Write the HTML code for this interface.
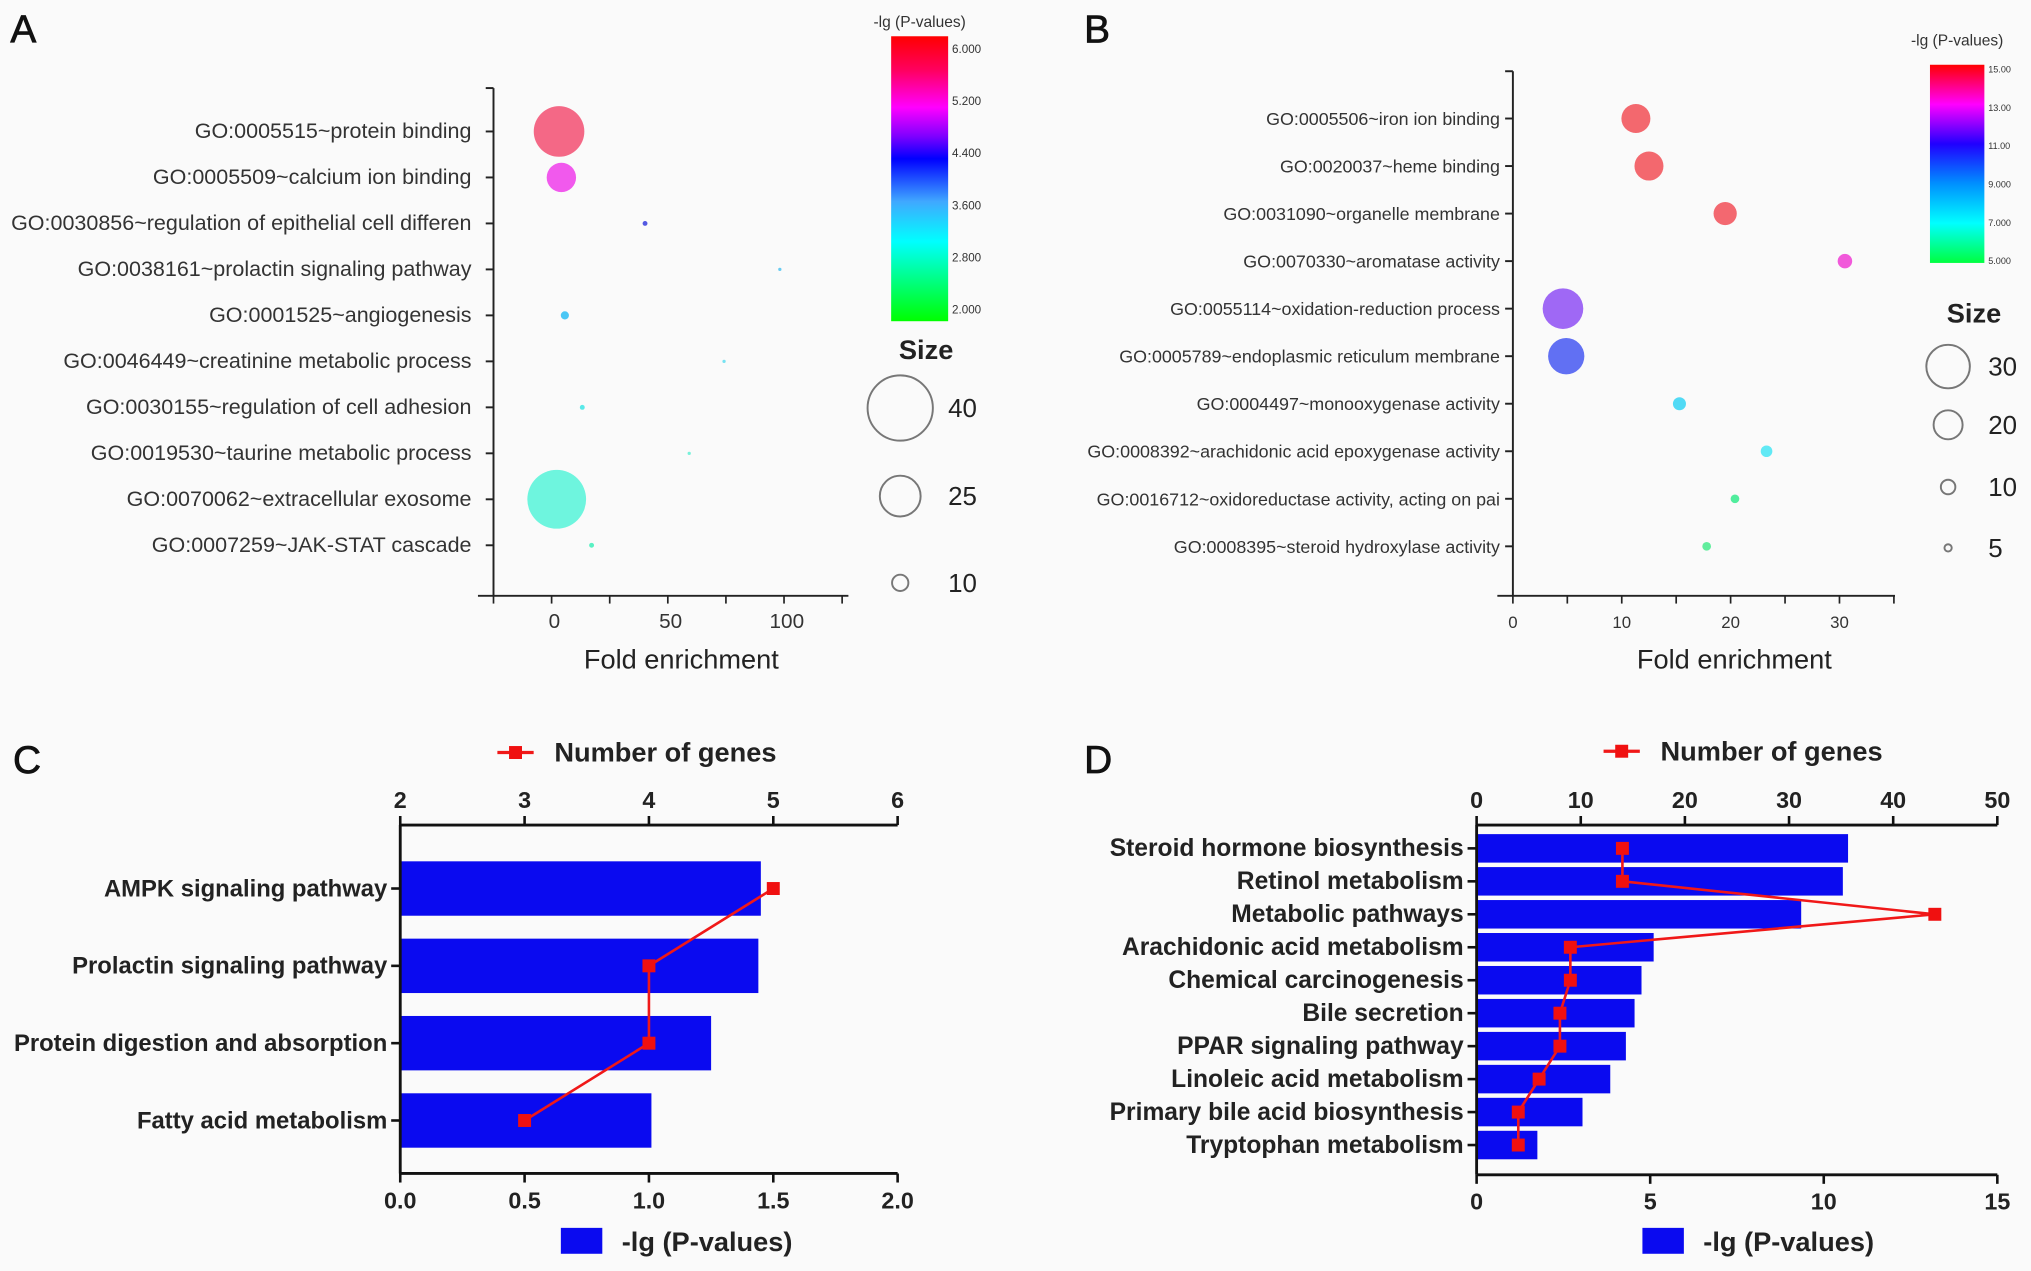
<!DOCTYPE html>
<html><head><meta charset="utf-8"><style>
html,body{margin:0;padding:0;background:#fafafa;}
svg{display:block;font-family:"Liberation Sans",Arial,sans-serif;}
</style></head><body>
<svg id="fig" width="2031" height="1271" viewBox="0 0 1568 981.3" preserveAspectRatio="none">
<defs>
<linearGradient id="gA" x1="0" y1="0" x2="0" y2="1">
<stop offset="0" stop-color="#ff0000"/><stop offset="0.12" stop-color="#ff0060"/><stop offset="0.25" stop-color="#ff00ff"/><stop offset="0.35" stop-color="#8000ff"/><stop offset="0.43" stop-color="#0000ff"/><stop offset="0.58" stop-color="#40a8ff"/><stop offset="0.72" stop-color="#00ffff"/><stop offset="1" stop-color="#00ff00"/>
</linearGradient>
<linearGradient id="gB" x1="0" y1="0" x2="0" y2="1">
<stop offset="0" stop-color="#ff0000"/><stop offset="0.2" stop-color="#ff00ff"/><stop offset="0.4" stop-color="#2000ff"/><stop offset="0.6" stop-color="#0090ff"/><stop offset="0.8" stop-color="#00ffff"/><stop offset="1" stop-color="#00ff40"/>
</linearGradient>
</defs>
</svg>
<script>
// Panel A data
const aTerms=["GO:0005515~protein binding","GO:0005509~calcium ion binding","GO:0030856~regulation of epithelial cell differen","GO:0038161~prolactin signaling pathway","GO:0001525~angiogenesis","GO:0046449~creatinine metabolic process","GO:0030155~regulation of cell adhesion","GO:0019530~taurine metabolic process","GO:0070062~extracellular exosome","GO:0007259~JAK-STAT cascade"];
const aFold=[2,3,39,97,4.5,73,12,58,1,16];
const aSize=[31,18,3,2,5,2,3,2,36,3];
const aColor=["#f36080","#f050ec","#4a50e0","#60c8f0","#40c4f4","#70e0f0","#50e8e8","#70f0d8","#66f4dc","#50f0c0"];
const aTicks=[0,50,100];
const aCbLabels=["6.000","5.200","4.400","3.600","2.800","2.000"];
const aSizeLegend=[40,25,10];
// Panel B data
const bTerms=["GO:0005506~iron ion binding","GO:0020037~heme binding","GO:0031090~organelle membrane","GO:0070330~aromatase activity","GO:0055114~oxidation-reduction process","GO:0005789~endoplasmic reticulum membrane","GO:0004497~monooxygenase activity","GO:0008392~arachidonic acid epoxygenase activity","GO:0016712~oxidoreductase activity, acting on pai","GO:0008395~steroid hydroxylase activity"];
const bFold=[11.3,12.5,19.5,30.5,4.6,4.9,15.3,23.3,20.4,17.8];
const bSize=[20,20,16,10,28,25,9,8,6,6];
const bColor=["#f26066","#f26066","#f26068","#f050d8","#9a60f4","#5868f2","#48d8f4","#58e8f4","#48ec98","#58ec98"];
const bTicks=[0,10,20,30];
const bCbLabels=["15.00","13.00","11.00","9.000","7.000","5.000"];
const bSizeLegend=[30,20,10,5];
// Panel C data
const cTerms=["AMPK signaling pathway","Prolactin signaling pathway","Protein digestion and absorption","Fatty acid metabolism"];
const cP=[1.45,1.44,1.25,1.01];
const cGenes=[5,4,4,3];
const cBottomTicks=["0.0","0.5","1.0","1.5","2.0"];
const cTopTicks=[2,3,4,5,6];
// Panel D data
const dTerms=["Steroid hormone biosynthesis","Retinol metabolism","Metabolic pathways","Arachidonic acid metabolism","Chemical carcinogenesis","Bile secretion","PPAR signaling pathway","Linoleic acid metabolism","Primary bile acid biosynthesis","Tryptophan metabolism"];
const dP=[10.7,10.55,9.35,5.1,4.75,4.55,4.3,3.85,3.05,1.75];
const dGenes=[14,14,44,9,9,8,8,6,4,4];
const dBottomTicks=[0,5,10,15];
const dTopTicks=[0,10,20,30,40,50];

const svg=document.getElementById('fig');
const NS="http://www.w3.org/2000/svg";
function el(tag,attrs,parent,text){const e=document.createElementNS(NS,tag);for(const k in attrs)e.setAttribute(k,attrs[k]);if(text!==undefined)e.textContent=text;(parent||svg).appendChild(e);return e;}
function grp(name){const g=el('g',{});


return g;}

// Panel letters
[["A",8,33],["B",837,33],["C",10,597],["D",837,597]].forEach(p=>{const t=el('text',{x:p[1],y:p[2],'font-size':30,fill:'#111',stroke:'#111','stroke-width':0.6},svg,p[0]);

});

// ---------- Bubble chart helper
function bubble(cfg){
  const g=grp(cfg.name);
  const xs=v=>cfg.x0+(v-cfg.d0)*(cfg.x1-cfg.x0)/(cfg.d1-cfg.d0);
  const ys=i=>cfg.row0+i*cfg.rowStep;
  const ax=grp(cfg.name+'-axes');g.appendChild(ax);
  el('line',{x1:cfg.x0,y1:cfg.top,x2:cfg.x0,y2:cfg.bot,stroke:'#222','stroke-width':1.5},ax);
  el('line',{x1:cfg.x0-12,y1:cfg.bot,x2:cfg.x1,y2:cfg.bot,stroke:'#222','stroke-width':1.5},ax);
  el('line',{x1:cfg.x0-6,y1:cfg.top,x2:cfg.x0,y2:cfg.top,stroke:'#222','stroke-width':1.5},ax);
  cfg.terms.forEach((t,i)=>{
    el('line',{x1:cfg.x0-6,y1:ys(i),x2:cfg.x0,y2:ys(i),stroke:'#222','stroke-width':1.5},ax);
    const lb=el('text',{x:cfg.x0-cfg.lgap,y:ys(i)+5,'font-size':cfg.fs,'text-anchor':'end',fill:'#333'},g,t);
    
    
  });
  for(let v=cfg.d0;v<=cfg.d1+0.001;v+=cfg.minor){const x=xs(v);if(x<cfg.x0-13)continue;
    el('line',{x1:x,y1:cfg.bot,x2:x,y2:cfg.bot+6,stroke:'#222','stroke-width':1.3},ax);}
  cfg.ticks.forEach(v=>{const tl=el('text',{x:xs(v),y:cfg.bot+25,'font-size':cfg.tfs,'text-anchor':'middle',fill:'#333'},ax,String(v));
    
    });
  const xt=el('text',{x:cfg.titleX,y:cfg.bot+56,'font-size':21,'text-anchor':'middle',fill:'#222'},g,'Fold enrichment');
  
  
  cfg.fold.forEach((v,i)=>{
    const c=el('circle',{cx:xs(v),cy:ys(i),r:cfg.size[i]*cfg.rScale,fill:cfg.color[i],opacity:0.95},g);
    
    
  });
  const cb=grp(cfg.name+'-colorbar');g.appendChild(cb);
  const ct=el('text',{x:cfg.cbX+cfg.cbW/2,y:cfg.cbTitleY,'font-size':12,'text-anchor':'middle',fill:'#333'},cb,'-lg (P-values)');
  
  
  el('rect',{x:cfg.cbX,y:cfg.cbY0,width:cfg.cbW,height:cfg.cbY1-cfg.cbY0,fill:cfg.grad},cb);
  cfg.cbLabels.forEach((l,i)=>{const y=cfg.cbL0+i*(cfg.cbL1-cfg.cbL0)/(cfg.cbLabels.length-1);
    el('text',{x:cfg.cbX+cfg.cbW+3,y:y+3,'font-size':cfg.cbfs,fill:'#333'},cb,l);});
  const sl=grp(cfg.name+'-size-legend');g.appendChild(sl);
  const st=el('text',{x:cfg.slX+20,y:cfg.slTitleY,'font-size':21,'font-weight':'bold','text-anchor':'middle',fill:'#222'},sl,'Size');
  
  
  cfg.sizeLegend.forEach((s,i)=>{const y=cfg.slY[i];
    el('circle',{cx:cfg.slX,cy:y,r:s*cfg.rScale,fill:'none',stroke:'#777','stroke-width':1.5},sl);
    el('text',{x:cfg.slX+cfg.slDX,y:y+7,'font-size':20,fill:'#222'},sl,String(s));});
}

bubble({name:'panel-a-bubble-chart',terms:aTerms,fold:aFold,size:aSize,color:aColor,ticks:aTicks,
 x0:381,x1:655,d0:-26.2,d1:126.5,top:68,bot:460,row0:101.5,rowStep:35.5,minor:25,fs:16.6,lgap:17,tfs:16,titleX:526,rScale:0.63,
 cbX:688,cbW:44,cbY0:28,cbY1:248,cbTitleY:21,grad:'url(#gA)',cbLabels:aCbLabels,cbL0:38,cbL1:239,cbfs:9,
 slX:695,slTitleY:277,slY:[315,383,450],slDX:37,sizeLegend:aSizeLegend});
bubble({name:'panel-b-bubble-chart',terms:bTerms,fold:bFold,size:bSize,color:bColor,ticks:bTicks,
 x0:1168,x1:1463,d0:0,d1:35.1,top:55,bot:460,row0:91.5,rowStep:36.7,minor:5,fs:13.8,lgap:10,tfs:13,titleX:1339,rScale:0.56,
 cbX:1490,cbW:42,cbY0:50,cbY1:203,cbTitleY:35,grad:'url(#gB)',cbLabels:bCbLabels,cbL0:53,cbL1:201,cbfs:7,
 slX:1504,slTitleY:249,slY:[283,328,376,423],slDX:31,sizeLegend:bSizeLegend});

// ---------- Bar + line chart helper
function barLine(cfg){
  const g=grp(cfg.name);
  const xb=v=>cfg.x0+(v-cfg.b0)*(cfg.x1-cfg.x0)/(cfg.b1-cfg.b0);
  const xt=v=>cfg.x0+(v-cfg.t0)*(cfg.x1-cfg.x0)/(cfg.t1-cfg.t0);
  const ys=i=>cfg.row0+i*cfg.rowStep;
  cfg.p.forEach((v,i)=>{const r=el('rect',{x:cfg.x0,y:ys(i)-cfg.bh/2,width:xb(v)-cfg.x0,height:cfg.bh,fill:'#0a0af0'},g);
    
    });
  const ax=grp(cfg.name+'-axes');g.appendChild(ax);
  el('line',{x1:cfg.x0,y1:cfg.top,x2:cfg.x0,y2:cfg.bot,stroke:'#111','stroke-width':2.2},ax);
  el('line',{x1:cfg.x0,y1:cfg.top,x2:cfg.x1,y2:cfg.top,stroke:'#111','stroke-width':2.2},ax);
  el('line',{x1:cfg.x0,y1:cfg.bot,x2:cfg.x1,y2:cfg.bot,stroke:'#111','stroke-width':2.2},ax);
  cfg.bTicks.forEach(t=>{const x=xb(parseFloat(t));
    el('line',{x1:x,y1:cfg.bot,x2:x,y2:cfg.bot+7,stroke:'#111','stroke-width':2},ax);
    el('text',{x:x,y:cfg.bot+27,'font-size':18,'font-weight':'bold','text-anchor':'middle',fill:'#222'},ax,String(t));});
  cfg.tTicks.forEach(t=>{const x=xt(t);
    el('line',{x1:x,y1:cfg.top-7,x2:x,y2:cfg.top,stroke:'#111','stroke-width':2},ax);
    el('text',{x:x,y:cfg.top-13,'font-size':18,'font-weight':'bold','text-anchor':'middle',fill:'#222'},ax,String(t));});
  cfg.terms.forEach((t,i)=>{el('line',{x1:cfg.x0-7,y1:ys(i),x2:cfg.x0,y2:ys(i),stroke:'#111','stroke-width':2},ax);
    const lb=el('text',{x:cfg.x0-10,y:ys(i)+6,'font-size':cfg.fs,'font-weight':'bold','text-anchor':'end',fill:'#222'},g,t);
    
    });
  const pts=cfg.genes.map((v,i)=>xt(v)+','+ys(i)).join(' ');
  const pl=el('polyline',{points:pts,fill:'none',stroke:'#f01818','stroke-width':2},g);
  
  
  cfg.genes.forEach((v,i)=>{const m=el('rect',{x:xt(v)-5,y:ys(i)-5,width:10,height:10,fill:'#f01010'},g);
    
    });
  const lt=grp(cfg.name+'-legend-genes');g.appendChild(lt);
  el('line',{x1:cfg.lgX-14,y1:cfg.lgY,x2:cfg.lgX+14,y2:cfg.lgY,stroke:'#f01818','stroke-width':2.5},lt);
  el('rect',{x:cfg.lgX-5,y:cfg.lgY-5,width:10,height:10,fill:'#f01010'},lt);
  el('text',{x:cfg.lgX+30,y:cfg.lgY+7,'font-size':21,'font-weight':'bold',fill:'#222'},lt,'Number of genes');
  const lb2=grp(cfg.name+'-legend-pvalues');g.appendChild(lb2);
  el('rect',{x:cfg.lbX,y:948,width:32,height:20,fill:'#0a0af0'},lb2);
  el('text',{x:cfg.lbX+47,y:966,'font-size':21,'font-weight':'bold',fill:'#222'},lb2,'-lg (P-values)');
}
barLine({name:'panel-c-bar-chart',terms:cTerms,p:cP,genes:cGenes,bTicks:cBottomTicks,tTicks:cTopTicks,
 x0:309,x1:693,b0:0,b1:2,t0:2,t1:6,top:637,bot:906,row0:686,rowStep:59.7,bh:42,fs:18.4,lgX:398,lgY:581,lbX:433});
barLine({name:'panel-d-bar-chart',terms:dTerms,p:dP,genes:dGenes,bTicks:dBottomTicks,tTicks:dTopTicks,
 x0:1140,x1:1542,b0:0,b1:15,t0:0,t1:50,top:637,bot:907,row0:655,rowStep:25.45,bh:22,fs:19,lgX:1252,lgY:580,lbX:1268});
</script>
</body></html>
